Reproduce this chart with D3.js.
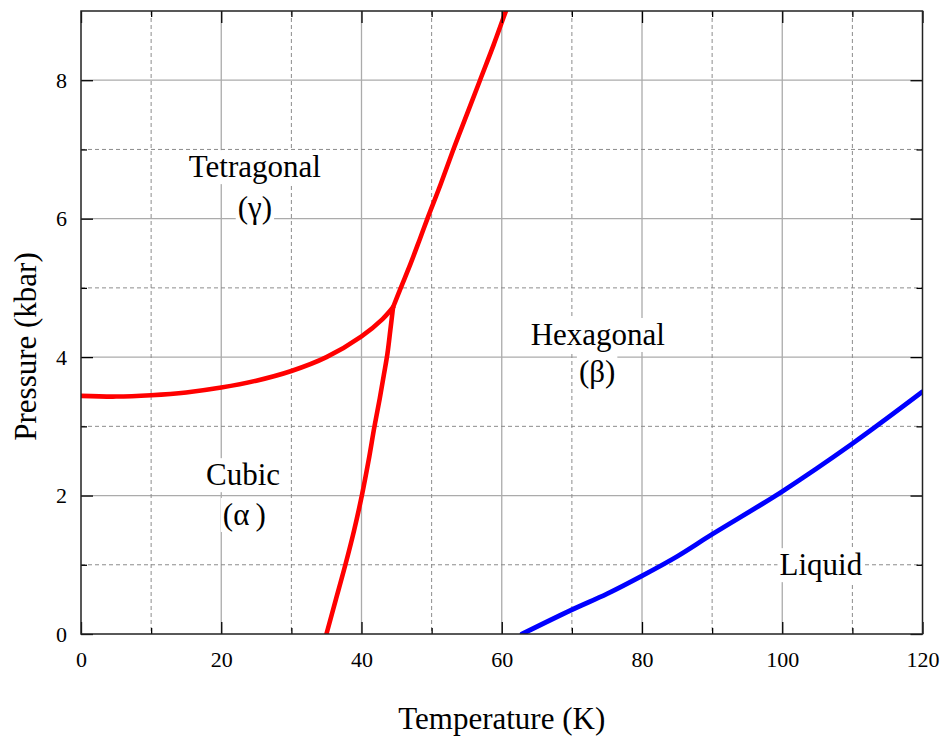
<!DOCTYPE html>
<html>
<head>
<meta charset="utf-8">
<script src="https://cdn.jsdelivr.net/npm/d3@7"></script>
<style>
  html, body { margin: 0; padding: 0; background: #fff; }
  svg text { font-family: "Liberation Serif", "Times New Roman", serif !important; fill: #000; }
</style>
</head>
<body>
<svg id="chart" width="946" height="738"></svg>
<script>
// Phase boundaries: [temperature (K), pressure (kbar)]
const cubicTetragonal = [
  [0, 3.44], [5, 3.43], [10, 3.45], [15, 3.49], [20, 3.56], [25, 3.66],
  [30, 3.80], [35, 4.00], [40, 4.30], [43, 4.55], [44.5, 4.72]
];
const cubicHexagonal = [
  [35, 0], [36.35, 0.5], [37.7, 1.0], [38.95, 1.5], [40.05, 2.0], [41.0, 2.5],
  [41.85, 3.0], [42.6, 3.4], [43.2, 3.75], [43.7, 4.05], [44.1, 4.38], [44.5, 4.72]
];
const hexagonalTetragonal = [
  [44.5, 4.72], [45.6, 5.0], [47.0, 5.35], [48.3, 5.7], [49.4, 6.0],
  [51.3, 6.5], [53.1, 7.0], [55.0, 7.5], [56.9, 8.0], [58.8, 8.5], [60.6, 9.0], [61.0, 9.1]
];
const melting = [
  [62.9, 0], [70, 0.35], [75, 0.58], [80, 0.84], [85, 1.12],
  [90, 1.44], [100, 2.06], [110, 2.75], [120, 3.5]
];

// Axis ticks
const xMajorTicks = [0, 20, 40, 60, 80, 100, 120];
const xMinorTicks = [10, 30, 50, 70, 90, 110];
const yMajorTicks = [0, 2, 4, 6, 8];
const yMinorTicks = [1, 3, 5, 7];

// Phase names and where they sit (temperature, pressure of the text baseline centre)
const phaseText = ["Tetragonal", "(γ)", "Cubic", "(α\u2009)", "Hexagonal", "(β)", "Liquid"];
const phaseAt = [
  [24.8, 6.60], [24.8, 6.01], [23.1, 2.15], [23.3, 1.575],
  [73.7, 4.175], [73.6, 3.64], [105.5, 0.85]
];

const svg = d3.select("#chart");
const L = 81, R = 922.5, T = 11, B = 634;

const x = d3.scaleLinear().domain([0, 120]).range([L, R]);
const y = d3.scaleLinear().domain([0, 9]).range([B, T]);

// Grid: solid at major ticks, dashed at minor ticks
const grid = svg.append("g");
grid.selectAll(".gx").data(xMajorTicks.filter(d => d > 0 && d < 120)).join("line")
  .attr("x1", d => x(d)).attr("x2", d => x(d)).attr("y1", T).attr("y2", B)
  .attr("stroke", "#ababab").attr("stroke-width", 1.3);
grid.selectAll(".gy").data(yMajorTicks.filter(d => d > 0)).join("line")
  .attr("y1", d => y(d)).attr("y2", d => y(d)).attr("x1", L).attr("x2", R)
  .attr("stroke", "#ababab").attr("stroke-width", 1.3);
grid.selectAll(".mx").data(xMinorTicks).join("line")
  .attr("x1", d => x(d)).attr("x2", d => x(d)).attr("y1", T).attr("y2", B)
  .attr("stroke", "#8c8c8c").attr("stroke-width", 1).attr("stroke-dasharray", "4,3");
grid.selectAll(".my").data(yMinorTicks).join("line")
  .attr("y1", d => y(d)).attr("y2", d => y(d)).attr("x1", L).attr("x2", R)
  .attr("stroke", "#8c8c8c").attr("stroke-width", 1).attr("stroke-dasharray", "4,3");

// Phase labels on white boxes that mask the grid
const labels = svg.append("g");
phaseText.forEach((t, i) => {
  const g = labels.append("g");
  const rect = g.append("rect").attr("fill", "#fff");
  const txt = g.append("text")
    .attr("x", x(phaseAt[i][0])).attr("y", y(phaseAt[i][1]))
    .attr("text-anchor", "middle")
    .attr("font-size", 31)
    .text(t);
  const bb = txt.node().getBBox();
  rect.attr("x", bb.x - 2).attr("y", bb.y + 1).attr("width", bb.width + 4).attr("height", bb.height - 1);
});

// Phase boundary curves
const line = d3.line().x(d => x(d[0])).y(d => y(d[1])).curve(d3.curveCatmullRom.alpha(0.5));
svg.append("clipPath").attr("id", "plotClip").append("rect")
  .attr("x", L).attr("y", T).attr("width", R - L).attr("height", B - T);
const curves = svg.append("g").attr("clip-path", "url(#plotClip)");
[cubicTetragonal, cubicHexagonal, hexagonalTetragonal].forEach(c => {
  curves.append("path").attr("d", line(c)).attr("fill", "none")
    .attr("stroke", "#ff0000").attr("stroke-width", 4.6)
    .attr("stroke-linejoin", "round").attr("stroke-linecap", "round");
});
curves.append("path").attr("d", line(melting)).attr("fill", "none")
  .attr("stroke", "#0000ff").attr("stroke-width", 4.8)
  .attr("stroke-linejoin", "round").attr("stroke-linecap", "round");

// Axes with inward ticks on all four sides
function styleAxis(g) {
  g.attr("font-family", null).attr("font-size", null);
  g.select(".domain").remove();
  g.selectAll(".tick line").attr("stroke", "#000").attr("stroke-width", 1.3);
  g.selectAll(".tick text").attr("font-size", 22).attr("fill", "#000");
}
svg.append("g").attr("transform", `translate(0,${B})`)
  .call(d3.axisBottom(x).tickValues(xMajorTicks).tickSize(-12).tickPadding(17).tickFormat(d3.format("d")))
  .call(styleAxis);
svg.append("g").attr("transform", `translate(0,${B})`)
  .call(d3.axisBottom(x).tickValues(xMinorTicks).tickSize(-6).tickFormat(""))
  .call(styleAxis);
svg.append("g").attr("transform", `translate(0,${T})`)
  .call(d3.axisTop(x).tickValues(xMajorTicks).tickSize(-12).tickFormat(""))
  .call(styleAxis);
svg.append("g").attr("transform", `translate(0,${T})`)
  .call(d3.axisTop(x).tickValues(xMinorTicks).tickSize(-6).tickFormat(""))
  .call(styleAxis);
svg.append("g").attr("transform", `translate(${L},0)`)
  .call(d3.axisLeft(y).tickValues(yMajorTicks).tickSize(-12).tickPadding(14).tickFormat(d3.format("d")))
  .call(styleAxis);
svg.append("g").attr("transform", `translate(${L},0)`)
  .call(d3.axisLeft(y).tickValues(yMinorTicks).tickSize(-6).tickFormat(""))
  .call(styleAxis);
svg.append("g").attr("transform", `translate(${R},0)`)
  .call(d3.axisRight(y).tickValues(yMajorTicks).tickSize(-12).tickFormat(""))
  .call(styleAxis);
svg.append("g").attr("transform", `translate(${R},0)`)
  .call(d3.axisRight(y).tickValues(yMinorTicks).tickSize(-6).tickFormat(""))
  .call(styleAxis);

// Plot frame
svg.append("rect").attr("x", L).attr("y", T).attr("width", R - L).attr("height", B - T)
  .attr("fill", "none").attr("stroke", "#222").attr("stroke-width", 1.5);

// Axis titles
svg.append("text").attr("x", (L + R) / 2).attr("y", 729)
  .attr("text-anchor", "middle").attr("font-size", 31)
  .text("Temperature (K)");
svg.append("text").attr("transform", `translate(36,${(B + T) / 2 + 24}) rotate(-90)`)
  .attr("text-anchor", "middle").attr("font-size", 31)
  .text("Pressure (kbar)");
</script>
</body>
</html>
